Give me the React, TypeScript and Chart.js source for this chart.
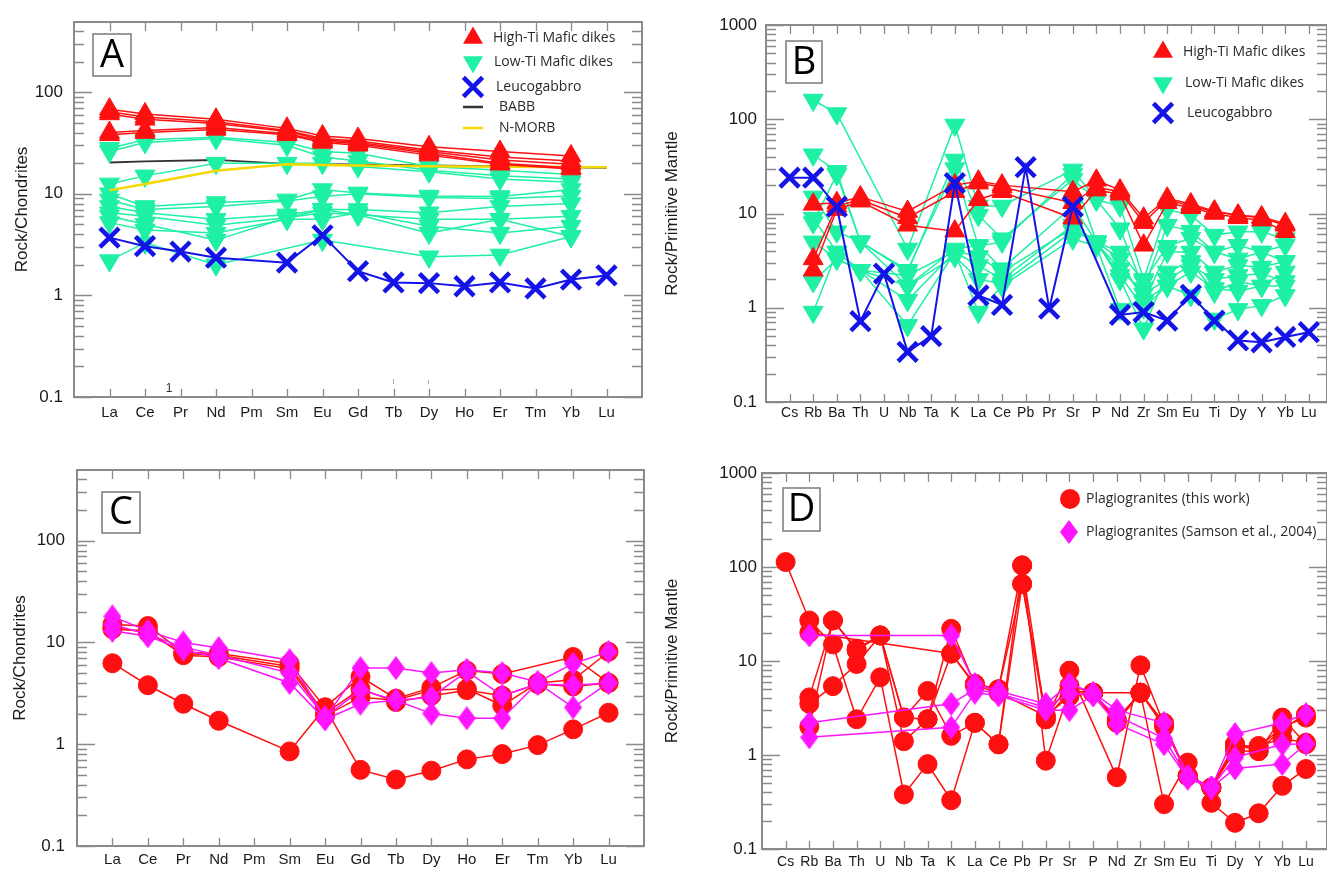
import React, { useEffect, useRef } from 'react';
import { Chart, registerables } from 'chart.js';

Chart.register(...registerables);

// ---------- categories & tick labels ----------
const REE = ['La', 'Ce', 'Pr', 'Nd', 'Pm', 'Sm', 'Eu', 'Gd', 'Tb', 'Dy', 'Ho', 'Er', 'Tm', 'Yb', 'Lu'];
const SPIDER = ['Cs', 'Rb', 'Ba', 'Th', 'U', 'Nb', 'Ta', 'K', 'La', 'Ce', 'Pb', 'Pr', 'Sr', 'P', 'Nd', 'Zr', 'Sm', 'Eu', 'Ti', 'Dy', 'Y', 'Yb', 'Lu'];
const CHONDRITE_TICKS = [0.1, 1, 10, 100];
const MANTLE_TICKS = [0.1, 1, 10, 100, 1000];

type V = number | null;

// ---------- Panel A : REE, mafic dikes ----------
const A_HIGH_TI: V[][] = [
  [68, 61, null, 54, null, 44, 37, 35, null, 29, null, 26, null, 23.5, null],
  [64, 57, null, 51, null, 42, 35, 33, null, 27, null, 23, null, 21, null],
  [61, 54, null, 49, null, 41, 34, 32, null, 26, null, 21.5, null, 19.5, null],
  [40, 42, null, 45, null, 39, 33, 31, null, 25, null, 20, null, 18, null],
  [38, 40, null, 43, null, 38, 32, 30, null, 24, null, 19.5, null, 17.5, null],
];
const A_LOW_TI: V[][] = [
  [28, 34, null, 36, null, 32, 26, 25, null, 18.5, null, 17, null, 15.5, null],
  [26, 32, null, 35, null, 30, 23, 21, null, 17, null, 15, null, 14, null],
  [12.5, 15, null, 20, null, 20, 20, 18.5, null, 16.5, null, 14, null, 13, null],
  [10, 7.5, null, 8.2, null, 8.7, 11, 10.2, null, 9.5, null, 9.4, null, 11, null],
  [8.7, 7, null, 7.5, null, 8.5, 9.4, 10, null, 9.2, null, 9, null, 9.5, null],
  [7.5, 6.5, null, 5.6, null, 6.2, 7, 7, null, 6.5, null, 7.5, null, 8, null],
  [6.5, 6, null, 4.9, null, 5.8, 6.5, 6.2, null, 5.6, null, 5.6, null, 6, null],
  [5.2, 4.4, null, 4.1, null, 5.6, 5.6, 6.5, null, 4.8, null, 4.1, null, 4.8, null],
  [6, 5, null, 3.5, null, 5.8, 7, 6.2, null, 4.1, null, 5.6, null, 3.8, null],
  [2.2, 3.3, null, 2.0, null, null, 3.5, null, null, 2.4, null, 2.5, null, 3.8, null],
];
const A_LEUCOGABBRO: V[] = [3.7, 3.05, 2.7, 2.35, null, 2.1, 3.9, 1.73, 1.34, 1.32, 1.23, 1.34, 1.17, 1.43, 1.57];
const A_BABB: V[] = [20.3, 20.8, null, 21.5, null, 19.7, 19.6, 19.5, null, 19.0, null, 18.6, null, 18.2, 18.0];
const A_NMORB: V[] = [10.8, 12.5, null, 16.8, null, 19.5, 19.2, 19.0, null, 18.6, null, 18.4, null, 18.3, 18.2];

// ---------- Panel B : spider, mafic dikes ----------
const B_HIGH_TI: V[][] = [
  [null, 12.5, 13, 15, null, 10.5, null, 20, 22, 20, null, null, 17, 22.5, 17.7, 8.9, 14.5, 12.6, 10.6, 9.6, 9.2, 7.8, null],
  [null, 3.3, 12, 14, null, 9, null, 17, 21, 19, null, null, 13, 19, 17, 8, 14, 12, 10.5, 9.5, 9, 7.5, null],
  [null, 2.5, 11, 13.5, null, 7.5, null, 6.5, 14, 17, null, null, 8.9, 17.7, 16, 4.6, 13, 11.5, 10, 9, 8.5, 6.4, null],
];
const B_LOW_TI: V[][] = [
  [null, 160, 115, null, null, 4.2, null, 87, 12, 12, null, null, 29, 14, 12, 2.0, 11, 9.6, 5.9, 6.4, 6.4, 5.4, null],
  [null, 42, 28, 5, null, 2.4, null, 37, 9.6, 5.4, null, null, 23, 14, 6.9, 1.6, 7.5, 6.5, 3.9, 4.6, 3.9, 4.6, null],
  [null, 15, 6.4, 5, null, 1.7, null, 4.2, 4.6, 2.6, null, null, 12, 5, 3.3, 1.16, 3.9, 3.9, 2.4, 2.8, 2.7, 3.1, null],
  [null, 8.9, 3.9, 2.5, null, 1.2, null, 3.9, 2.8, 2.0, null, null, 7.5, 5, 2.0, 0.6, 2.4, 3.1, 1.47, 1.9, 1.7, 2.4, null],
  [null, 5, 3.3, 2.5, null, 0.65, null, 3.9, 0.9, 1.7, null, null, 5.4, 4.5, 0.96, 1.2, 1.7, 1.35, 0.76, 0.96, 1.06, 1.35, null],
  [null, 1.9, 3.3, 2.5, null, 1.7, null, 3.5, 2.0, 1.8, null, null, 6.5, 5, 2.2, 1.0, 1.7, 2.4, 1.6, 1.5, 1.7, 1.7, null],
  [null, 0.9, 3.9, 2.5, null, 2.2, null, 4.0, 3.5, 2.4, null, null, 7, 4.8, 2.6, 1.4, 2.0, 2.8, 2.0, 2.2, 2.3, 1.9, null],
  [null, 8, 26, 5, null, 2.5, null, 30, 4.5, 5, null, null, 26, 5, 3.9, 1.9, 4.5, 5.5, 3.9, 3.3, 3.9, 3.1, null],
];
const B_LEUCOGABBRO: V[] = [24, 24, 11.8, 0.72, 2.3, 0.34, 0.5, 21, 1.35, 1.07, 31, 0.98, 11.8, null, 0.84, 0.9, 0.73, 1.37, 0.73, 0.45, 0.43, 0.49, 0.55];

// ---------- Panel C : REE, plagiogranites ----------
const C_THIS_WORK: V[][] = [
  [15, 14.5, 8, 7.8, null, 6.2, 2.3, 4.6, 2.8, 3.6, 5.3, 4.9, null, 7.2, 4.0],
  [13.5, 13, 7.5, 7.2, null, 5.5, 1.9, 2.9, 2.7, 3.4, 3.5, 2.4, 4.0, 4.3, 8.1],
  [14, 12.5, 7.8, 7.5, null, 5.8, 2.0, 3.5, 2.6, 3.0, 3.4, 3.0, 3.9, 3.7, 4.0],
  [6.25, 3.8, 2.5, 1.7, null, 0.85, 2.3, 0.56, 0.45, 0.55, 0.71, 0.8, 0.98, 1.4, 2.04],
];
const C_SAMSON: V[][] = [
  [18, 13, 10, 8.8, null, 6.7, 1.8, 5.6, 5.6, 5.0, 5.4, 5.0, 4.1, 6.2, 8.1],
  [15, 12, 9, 7.5, null, 5.0, 1.85, 3.4, 2.7, 2.0, 1.8, 1.8, 4.0, 2.3, 4.0],
  [13, 11.5, 8.5, 7, null, 4.0, 1.75, 2.5, 2.7, 2.9, 5.2, 3.0, 3.9, 3.8, 4.0],
];

// ---------- Panel D : spider, plagiogranites ----------
const D_THIS_WORK: V[][] = [
  [113, 27, 15, 2.4, 6.7, 0.38, 0.8, 0.33, 2.2, 1.3, 104, 0.87, 4.8, 4.6, null, 4.6, 0.3, 0.83, 0.31, 0.19, 0.24, 0.47, 0.71],
  [null, 4.1, 27, 13.5, 18.7, 2.5, 4.8, 1.6, 2.2, 1.3, 66, 2.4, 7.9, null, 0.58, 9.0, 2.1, 0.6, 0.45, 1.3, 1.1, 2.5, 1.3],
  [null, 20, null, null, null, null, null, 12, 5.5, 4.6, null, 2.6, 5.5, 4.6, 2.3, 4.6, 2.0, 0.6, 0.45, 1.2, 1.25, 1.5, 1.35],
  [null, 3.5, 5.4, 9.3, 18.7, 1.4, 2.4, 22, 5.7, 5.0, 104, 2.4, 4.8, 4.6, 2.2, 4.6, 2.1, 0.6, 0.45, 1.1, 1.1, 1.9, 2.7],
  [null, 2.0, 27, 12.9, 18.7, 2.5, 2.4, 12, 5.7, 5.0, 66, 2.6, 4.2, 4.6, 2.4, 4.6, 2.2, 0.6, 0.45, 1.3, 1.2, 2.0, 2.5],
];
const D_SAMSON: V[][] = [
  [null, 18.7, null, null, null, null, null, 18.7, 5.7, 4.8, null, 3.5, 5.7, 4.6, 3.0, null, 2.2, 0.6, 0.45, 1.67, null, 2.2, 2.73],
  [null, 2.2, null, null, null, null, null, 3.5, 5.0, 4.5, null, 3.2, 4.5, 4.4, 2.6, null, 1.5, 0.58, 0.45, 0.94, null, 1.3, 1.31],
  [null, 1.54, null, null, null, null, null, 1.97, 4.6, 4.3, null, 3.0, 3.0, 4.3, 2.14, null, 1.3, 0.56, 0.45, 0.72, null, 0.8, 1.31],
];

// ---------- styles ----------
const GRAY = '#8a8a8a';
const RED = '#ff1010';
const CYAN = '#1ef0a4';
const BLUE = '#1414e8';
const MAGENTA = '#ff14ff';
const YELLOW = '#f5d800';
const BLACK = '#333333';
const SANS = "'Liberation Sans', Arial, sans-serif";
const NARROW = "'Liberation Sans Narrow', 'Liberation Sans', Arial, sans-serif";
const LEGEND_FONT = "14px 'Open Sans', 'Liberation Sans', sans-serif";

type Marker = 'tri' | 'triDown' | 'x' | 'circle' | 'diamond' | 'line';

interface Group { values: V[][]; color: string; marker: Marker; lineWidth: number; order: number; }
interface LegendItem { marker: Marker; color: string; x: number; y: number; text: string; tx: number; }

interface PanelDef {
  left: number; top: number; width: number; height: number;
  padTop: number; padRight: number; yAxisW: number; xAxisH: number;
  xMax: number; yMin: number; yMax: number;
  elements: string[]; yTicks: number[];
  yTitle: string; yTitlePad: number; yLabelPad: number;
  xLabelPad: number; xFont: { family: string; size: number };
  letter: string; box: [number, number, number, number];
  legend: LegendItem[];
  groups: Group[];
  extras?: (ctx: CanvasRenderingContext2D) => void;
}

let diamondCache: HTMLCanvasElement | null = null;
function diamondImage(): HTMLCanvasElement {
  if (diamondCache) return diamondCache;
  const c = document.createElement('canvas');
  c.width = 18; c.height = 24;
  const g = c.getContext('2d')!;
  g.fillStyle = MAGENTA;
  g.beginPath();
  g.moveTo(9, 0); g.lineTo(18, 12); g.lineTo(9, 24); g.lineTo(0, 12);
  g.closePath(); g.fill();
  diamondCache = c;
  return c;
}

function toPoints(values: V[]) {
  const pts: { x: number; y: number }[] = [];
  values.forEach((v, i) => { if (v != null) pts.push({ x: i + 1, y: v }); });
  return pts;
}

function pointProps(marker: Marker) {
  switch (marker) {
    case 'tri': return { pointStyle: 'triangle', pointRadius: 11.5, pointRotation: 0, pointBorderWidth: 1 };
    case 'triDown': return { pointStyle: 'triangle', pointRadius: 11.5, pointRotation: 180, pointBorderWidth: 1 };
    case 'x': return { pointStyle: 'crossRot', pointRadius: 13.5, pointRotation: 0, pointBorderWidth: 4.5 };
    case 'circle': return { pointStyle: 'circle', pointRadius: 9.5, pointRotation: 0, pointBorderWidth: 1 };
    case 'diamond': return { pointStyle: diamondImage(), pointRadius: 10, pointRotation: 0, pointBorderWidth: 0 };
    default: return { pointStyle: 'circle', pointRadius: 0, pointRotation: 0, pointBorderWidth: 0 };
  }
}

function drawMarker(ctx: CanvasRenderingContext2D, marker: Marker, color: string, x: number, y: number) {
  ctx.save();
  ctx.fillStyle = color; ctx.strokeStyle = color;
  if (marker === 'tri' || marker === 'triDown') {
    const r = 11.5;
    let a = marker === 'tri' ? 0 : Math.PI;
    ctx.beginPath();
    for (let k = 0; k < 3; k++) {
      const px = x + Math.sin(a) * r, py = y - Math.cos(a) * r;
      if (k === 0) ctx.moveTo(px, py); else ctx.lineTo(px, py);
      a += (2 * Math.PI) / 3;
    }
    ctx.closePath(); ctx.fill();
  } else if (marker === 'x') {
    const r = 13.5, a = Math.PI / 4;
    const xo = Math.cos(a) * r, yo = Math.sin(a) * r;
    ctx.lineWidth = 4.5;
    ctx.beginPath();
    ctx.moveTo(x - xo, y - yo); ctx.lineTo(x + xo, y + yo);
    ctx.moveTo(x + yo, y - xo); ctx.lineTo(x - yo, y + xo);
    ctx.stroke();
  } else if (marker === 'circle') {
    ctx.beginPath(); ctx.arc(x, y, 10, 0, Math.PI * 2); ctx.fill();
  } else if (marker === 'diamond') {
    const img = diamondImage();
    ctx.drawImage(img, x - img.width / 2, y - img.height / 2);
  } else {
    ctx.lineWidth = 2.5;
    ctx.beginPath(); ctx.moveTo(x - 10, y); ctx.lineTo(x + 10, y); ctx.stroke();
  }
  ctx.restore();
}

function buildConfig(def: PanelDef): any {
  const datasets: any[] = [];
  def.groups.forEach((g) => {
    g.values.forEach((vals) => {
      datasets.push({
        data: toPoints(vals),
        borderColor: g.color,
        backgroundColor: g.color,
        borderWidth: g.lineWidth,
        pointBackgroundColor: g.color,
        pointBorderColor: g.color,
        ...pointProps(g.marker),
        pointHoverRadius: g.marker === 'line' ? 0 : 11,
        showLine: true,
        fill: false,
        tension: 0,
        order: g.order,
        clip: false,
      });
    });
  });

  const framePlugin = {
    id: 'frameTicks',
    beforeDatasetsDraw(chart: any) {
      const { ctx, chartArea: a } = chart;
      const xs = chart.scales.x, ys = chart.scales.y;
      ctx.save();
      ctx.strokeStyle = GRAY;
      ctx.lineWidth = 1.3;
      ctx.beginPath();
      const lo = Math.floor(Math.log10(def.yMin)), hi = Math.ceil(Math.log10(def.yMax));
      for (let d = lo; d <= hi; d++) {
        for (let m = 1; m <= 9; m++) {
          const v = m * Math.pow(10, d);
          if (v < def.yMin * 0.999 || v > def.yMax * 1.001) continue;
          const py = Math.round(ys.getPixelForValue(v)) + 0.5;
          const len = m === 1 ? 18 : 10;
          ctx.moveTo(a.left, py); ctx.lineTo(a.left + len, py);
          ctx.moveTo(a.right, py); ctx.lineTo(a.right - len, py);
        }
      }
      def.elements.forEach((_, i) => {
        const px = Math.round(xs.getPixelForValue(i + 1)) + 0.5;
        ctx.moveTo(px, a.bottom); ctx.lineTo(px, a.bottom - 8);
        ctx.moveTo(px, a.top); ctx.lineTo(px, a.top + 9);
      });
      ctx.stroke();
      ctx.lineWidth = 2;
      ctx.strokeRect(a.left, a.top, a.right - a.left, a.bottom - a.top);
      ctx.restore();
    },
    afterDraw(chart: any) {
      const ctx: CanvasRenderingContext2D = chart.ctx;
      ctx.save();
      const [bx, by, bw, bh] = def.box;
      ctx.fillStyle = '#ffffff';
      ctx.fillRect(bx, by, bw, bh);
      ctx.strokeStyle = '#7a7a7a';
      ctx.lineWidth = 1.5;
      ctx.strokeRect(bx, by, bw, bh);
      ctx.fillStyle = '#000000';
      ctx.font = "38px 'Open Sans', 'Liberation Sans', sans-serif";
      ctx.textAlign = 'center';
      ctx.textBaseline = 'middle';
      ctx.fillText(def.letter, bx + bw / 2, by + bh / 2 + 1);
      ctx.font = LEGEND_FONT;
      ctx.textAlign = 'left';
      ctx.textBaseline = 'middle';
      def.legend.forEach((it) => {
        drawMarker(ctx, it.marker, it.color, it.x, it.y);
        ctx.fillStyle = '#2a2a2a';
        ctx.fillText(it.text, it.tx, it.y);
      });
      if (def.extras) def.extras(ctx);
      ctx.restore();
    },
  };

  return {
    type: 'line',
    data: { datasets },
    options: {
      responsive: false,
      animation: false,
      devicePixelRatio: 1,
      events: [],
      layout: { autoPadding: false, padding: { top: def.padTop, right: def.padRight, left: 0, bottom: 0 } },
      plugins: { legend: { display: false }, tooltip: { enabled: false } },
      scales: {
        x: {
          type: 'linear',
          min: 0,
          max: def.xMax,
          afterBuildTicks: (s: any) => { s.ticks = def.elements.map((_, i) => ({ value: i + 1 })); },
          afterFit: (s: any) => { s.height = def.xAxisH; s.paddingLeft = 0; s.paddingRight = 0; },
          grid: { display: false, drawTicks: false },
          border: { display: false },
          ticks: {
            autoSkip: false,
            maxRotation: 0,
            minRotation: 0,
            padding: def.xLabelPad,
            color: '#1a1a1a',
            font: def.xFont,
            callback: (v: any) => def.elements[Math.round(Number(v)) - 1] ?? '',
          },
        },
        y: {
          type: 'logarithmic',
          min: def.yMin,
          max: def.yMax,
          afterBuildTicks: (s: any) => { s.ticks = def.yTicks.map((v) => ({ value: v })); },
          afterFit: (s: any) => { s.width = def.yAxisW; s.paddingTop = 0; s.paddingBottom = 0; },
          grid: { display: false, drawTicks: false },
          border: { display: false },
          ticks: {
            padding: def.yLabelPad,
            color: '#1a1a1a',
            font: { family: SANS, size: 17 },
            callback: (v: any) => String(Number(v)),
          },
          title: {
            display: true,
            text: def.yTitle,
            color: '#1a1a1a',
            font: { family: SANS, size: 17 },
            padding: { top: def.yTitlePad, bottom: 0 },
          },
        },
      },
    },
    plugins: [framePlugin],
  };
}

const PANELS: PanelDef[] = [
  {
    left: 0, top: 0, width: 660, height: 430,
    padTop: 22, padRight: 18, yAxisW: 74, xAxisH: 33,
    xMax: 16, yMin: 0.1, yMax: 490,
    elements: REE, yTicks: CHONDRITE_TICKS,
    yTitle: 'Rock/Chondrites', yTitlePad: 12, yLabelPad: 11,
    xLabelPad: 7, xFont: { family: SANS, size: 15 },
    letter: 'A', box: [93, 34, 38, 42],
    legend: [
      { marker: 'tri', color: RED, x: 473, y: 38, text: 'High-Ti Mafic dikes', tx: 493 },
      { marker: 'triDown', color: CYAN, x: 473, y: 62, text: 'Low-Ti Mafic dikes', tx: 494 },
      { marker: 'x', color: BLUE, x: 473, y: 87, text: 'Leucogabbro', tx: 496 },
      { marker: 'line', color: BLACK, x: 473, y: 107, text: 'BABB', tx: 499 },
      { marker: 'line', color: YELLOW, x: 473, y: 128, text: 'N-MORB', tx: 499 },
    ],
    groups: [
      { values: [A_LEUCOGABBRO], color: BLUE, marker: 'x', lineWidth: 2, order: 0 },
      { values: A_HIGH_TI, color: RED, marker: 'tri', lineWidth: 1.5, order: 1 },
      { values: [A_NMORB], color: YELLOW, marker: 'line', lineWidth: 2.5, order: 2 },
      { values: A_LOW_TI, color: CYAN, marker: 'triDown', lineWidth: 1.5, order: 3 },
      { values: [A_BABB], color: BLACK, marker: 'line', lineWidth: 1.8, order: 4 },
    ],
    extras: (ctx) => {
      ctx.fillStyle = '#333';
      ctx.font = `12px ${SANS}`;
      ctx.textAlign = 'center';
      ctx.textBaseline = 'middle';
      ctx.fillText('1', 169, 389);
      ctx.strokeStyle = '#aaa';
      ctx.lineWidth = 1;
      ctx.beginPath();
      ctx.moveTo(393.5, 379); ctx.lineTo(393.5, 384);
      ctx.moveTo(428.5, 380); ctx.lineTo(428.5, 384);
      ctx.stroke();
    },
  },
  {
    left: 660, top: 0, width: 667, height: 430,
    padTop: 25, padRight: 0, yAxisW: 106, xAxisH: 28,
    xMax: 23.77, yMin: 0.1, yMax: 1000,
    elements: SPIDER, yTicks: MANTLE_TICKS,
    yTitle: 'Rock/Primitive Mantle', yTitlePad: 2, yLabelPad: 9,
    xLabelPad: 3, xFont: { family: NARROW, size: 14 },
    letter: 'B', box: [126, 41, 36, 42],
    legend: [
      { marker: 'tri', color: RED, x: 503, y: 52, text: 'High-Ti Mafic dikes', tx: 523 },
      { marker: 'triDown', color: CYAN, x: 503, y: 83, text: 'Low-Ti Mafic dikes', tx: 525 },
      { marker: 'x', color: BLUE, x: 503, y: 113, text: 'Leucogabbro', tx: 527 },
    ],
    groups: [
      { values: [B_LEUCOGABBRO], color: BLUE, marker: 'x', lineWidth: 2, order: 0 },
      { values: B_HIGH_TI, color: RED, marker: 'tri', lineWidth: 1.5, order: 1 },
      { values: B_LOW_TI, color: CYAN, marker: 'triDown', lineWidth: 1.5, order: 2 },
    ],
  },
  {
    left: 0, top: 440, width: 660, height: 435,
    padTop: 30, padRight: 16, yAxisW: 77, xAxisH: 29,
    xMax: 16, yMin: 0.1, yMax: 495,
    elements: REE, yTicks: CHONDRITE_TICKS,
    yTitle: 'Rock/Chondrites', yTitlePad: 10, yLabelPad: 12,
    xLabelPad: 5, xFont: { family: SANS, size: 15 },
    letter: 'C', box: [102, 52, 38, 41],
    legend: [],
    groups: [
      { values: C_SAMSON, color: MAGENTA, marker: 'diamond', lineWidth: 1.5, order: 0 },
      { values: C_THIS_WORK, color: RED, marker: 'circle', lineWidth: 1.5, order: 1 },
    ],
  },
  {
    left: 660, top: 440, width: 667, height: 435,
    padTop: 33, padRight: 0, yAxisW: 102, xAxisH: 26,
    xMax: 23.89, yMin: 0.1, yMax: 1000,
    elements: SPIDER, yTicks: MANTLE_TICKS,
    yTitle: 'Rock/Primitive Mantle', yTitlePad: 2, yLabelPad: 5,
    xLabelPad: 5, xFont: { family: NARROW, size: 14 },
    letter: 'D', box: [123, 48, 37, 43],
    legend: [
      { marker: 'circle', color: RED, x: 410, y: 59, text: 'Plagiogranites (this work)', tx: 426 },
      { marker: 'diamond', color: MAGENTA, x: 409, y: 92, text: 'Plagiogranites (Samson et al., 2004)', tx: 426 },
    ],
    groups: [
      { values: D_SAMSON, color: MAGENTA, marker: 'diamond', lineWidth: 1.5, order: 0 },
      { values: D_THIS_WORK, color: RED, marker: 'circle', lineWidth: 1.5, order: 1 },
    ],
  },
];

function Panel({ def }: { def: PanelDef }) {
  const ref = useRef<HTMLCanvasElement>(null);
  useEffect(() => {
    const canvas = ref.current;
    if (!canvas) return;
    const chart = new Chart(canvas, buildConfig(def));
    return () => chart.destroy();
  }, [def]);
  return (
    <canvas
      ref={ref}
      width={def.width}
      height={def.height}
      style={{ position: 'absolute', left: def.left, top: def.top, width: def.width, height: def.height }}
    />
  );
}

export default function App() {
  return (
    <div style={{ position: 'absolute', left: 0, top: 0, width: 1327, height: 875, background: '#ffffff', overflow: 'hidden' }}>
      {PANELS.map((p, i) => (
        <Panel key={i} def={p} />
      ))}
    </div>
  );
}
